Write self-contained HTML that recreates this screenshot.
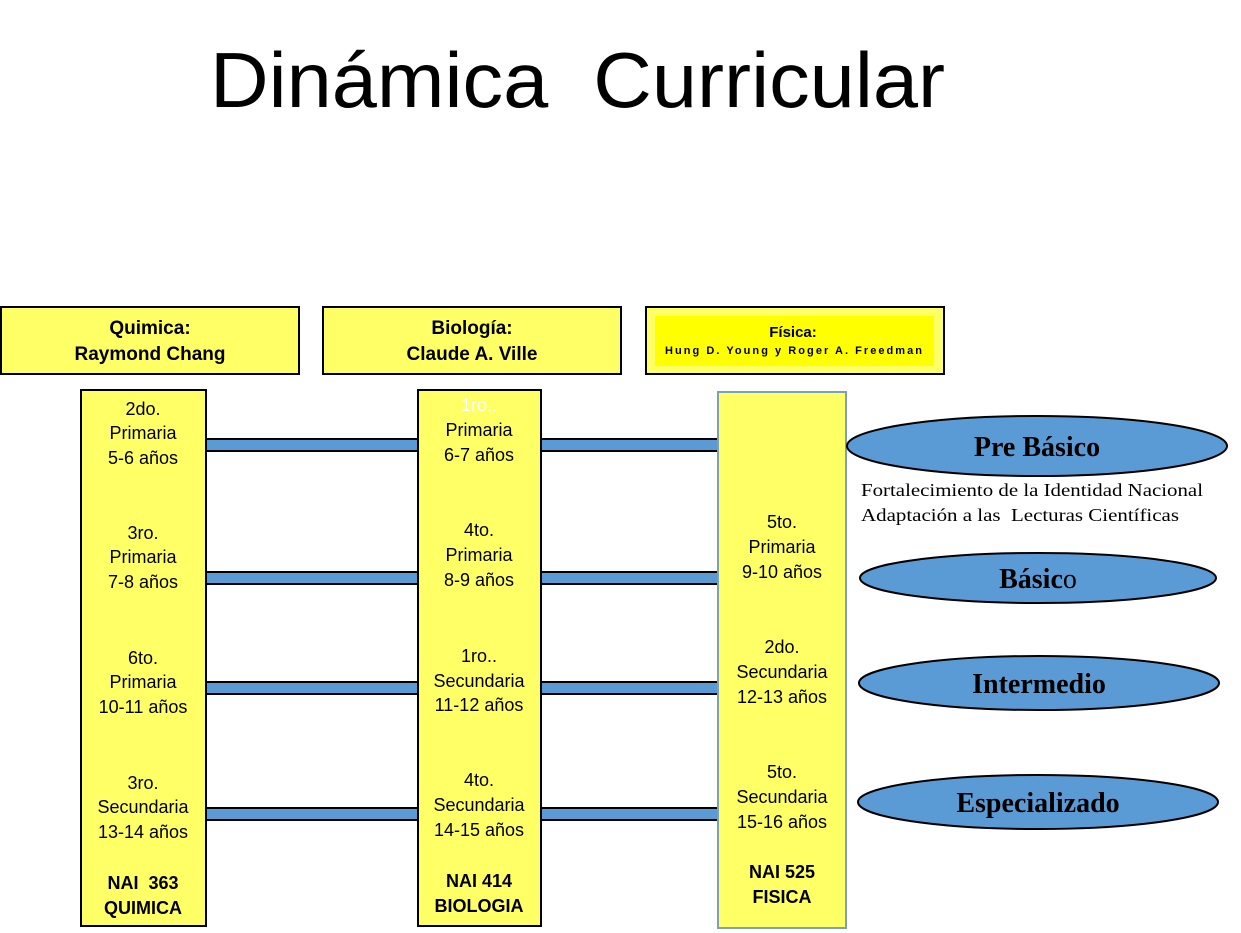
<!DOCTYPE html>
<html><head><meta charset="utf-8"><style>body{margin:0;background:#fff}svg{display:block}</style></head>
<body>
<svg width="1241" height="933" xmlns="http://www.w3.org/2000/svg" font-family="Liberation Sans, sans-serif">
<rect width="1241" height="933" fill="#fff"/>
<text x="210" y="107" font-size="78" textLength="735" lengthAdjust="spacingAndGlyphs" fill="#000" xml:space="preserve">Dinámica  Curricular</text>

<!-- header boxes -->
<rect x="1" y="307" width="298" height="67" fill="#ffff66" stroke="#000" stroke-width="2"/>
<text x="150" y="334" font-size="19" font-weight="bold" text-anchor="middle">Quimica:</text>
<text x="150" y="360" font-size="19" font-weight="bold" text-anchor="middle">Raymond Chang</text>
<rect x="323" y="307" width="298" height="67" fill="#ffff66" stroke="#000" stroke-width="2"/>
<text x="472" y="334" font-size="19" font-weight="bold" text-anchor="middle">Biología:</text>
<text x="472" y="360" font-size="19" font-weight="bold" text-anchor="middle">Claude A. Ville</text>
<rect x="646" y="307" width="298" height="67" fill="#ffff66" stroke="#000" stroke-width="2"/>
<rect x="655" y="316" width="279" height="50" fill="#ffff00"/>
<text x="793" y="337" font-size="15" font-weight="bold" text-anchor="middle">Física:</text>
<text x="665" y="354" font-size="11" font-weight="bold" textLength="257" lengthAdjust="spacing">Hung D. Young y Roger A. Freedman</text>

<!-- bars -->
<g fill="#5b9bd5" stroke="#000" stroke-width="2">
<rect x="206" y="439" width="212" height="12"/><rect x="541" y="439" width="177" height="12"/>
<rect x="206" y="572" width="212" height="12"/><rect x="541" y="572" width="177" height="12"/>
<rect x="206" y="682" width="212" height="12"/><rect x="541" y="682" width="177" height="12"/>
<rect x="206" y="808" width="212" height="12"/><rect x="541" y="808" width="177" height="12"/>
</g>

<!-- columns -->
<rect x="81" y="390" width="125" height="536" fill="#ffff66" stroke="#000" stroke-width="2"/>
<rect x="418" y="390" width="123" height="536" fill="#ffff66" stroke="#000" stroke-width="2"/>
<rect x="718" y="392" width="128" height="536" fill="#ffff66" stroke="#7f9fb5" stroke-width="2"/>

<g font-size="18" text-anchor="middle" fill="#000">
<text x="143" y="415">2do.</text><text x="143" y="439">Primaria</text><text x="143" y="464">5-6 años</text>
<text x="143" y="539">3ro.</text><text x="143" y="563">Primaria</text><text x="143" y="588">7-8 años</text>
<text x="143" y="664">6to.</text><text x="143" y="688">Primaria</text><text x="143" y="713">10-11 años</text>
<text x="143" y="789">3ro.</text><text x="143" y="813">Secundaria</text><text x="143" y="838">13-14 años</text>
<text x="143" y="889" font-weight="bold" xml:space="preserve">NAI  363</text><text x="143" y="914" font-weight="bold">QUIMICA</text>

<text x="479" y="411" fill="#fff">1ro..</text><text x="479" y="436">Primaria</text><text x="479" y="461">6-7 años</text>
<text x="479" y="536">4to.</text><text x="479" y="561">Primaria</text><text x="479" y="586">8-9 años</text>
<text x="479" y="662">1ro..</text><text x="479" y="687">Secundaria</text><text x="479" y="711">11-12 años</text>
<text x="479" y="786">4to.</text><text x="479" y="811">Secundaria</text><text x="479" y="836">14-15 años</text>
<text x="479" y="887" font-weight="bold">NAI 414</text><text x="479" y="912" font-weight="bold">BIOLOGIA</text>

<text x="782" y="528">5to.</text><text x="782" y="553">Primaria</text><text x="782" y="578">9-10 años</text>
<text x="782" y="653">2do.</text><text x="782" y="678">Secundaria</text><text x="782" y="703">12-13 años</text>
<text x="782" y="778">5to.</text><text x="782" y="803">Secundaria</text><text x="782" y="828">15-16 años</text>
<text x="782" y="878" font-weight="bold">NAI 525</text><text x="782" y="903" font-weight="bold">FISICA</text>
</g>

<!-- ellipses -->
<g fill="#5b9bd5" stroke="#000" stroke-width="2">
<ellipse cx="1037" cy="446" rx="190" ry="30"/>
<ellipse cx="1038" cy="578" rx="178" ry="25"/>
<ellipse cx="1039" cy="683" rx="180" ry="27"/>
<ellipse cx="1038" cy="802" rx="180" ry="27"/>
</g>
<g font-family="Liberation Serif, serif" font-weight="bold" font-size="28" text-anchor="middle" fill="#000">
<text x="1037" y="456">Pre Básico</text>
<text x="1038" y="588">Básic<tspan font-weight="normal">o</tspan></text>
<text x="1039" y="693">Intermedio</text>
<text x="1038" y="812">Especializado</text>
</g>
<g font-family="Liberation Serif, serif" font-size="18" fill="#000">
<text x="861" y="496" textLength="342" lengthAdjust="spacingAndGlyphs">Fortalecimiento de la Identidad Nacional</text>
<text x="861" y="521" textLength="318" lengthAdjust="spacingAndGlyphs" xml:space="preserve">Adaptación a las  Lecturas Científicas</text>
</g>
</svg>
</body></html>
